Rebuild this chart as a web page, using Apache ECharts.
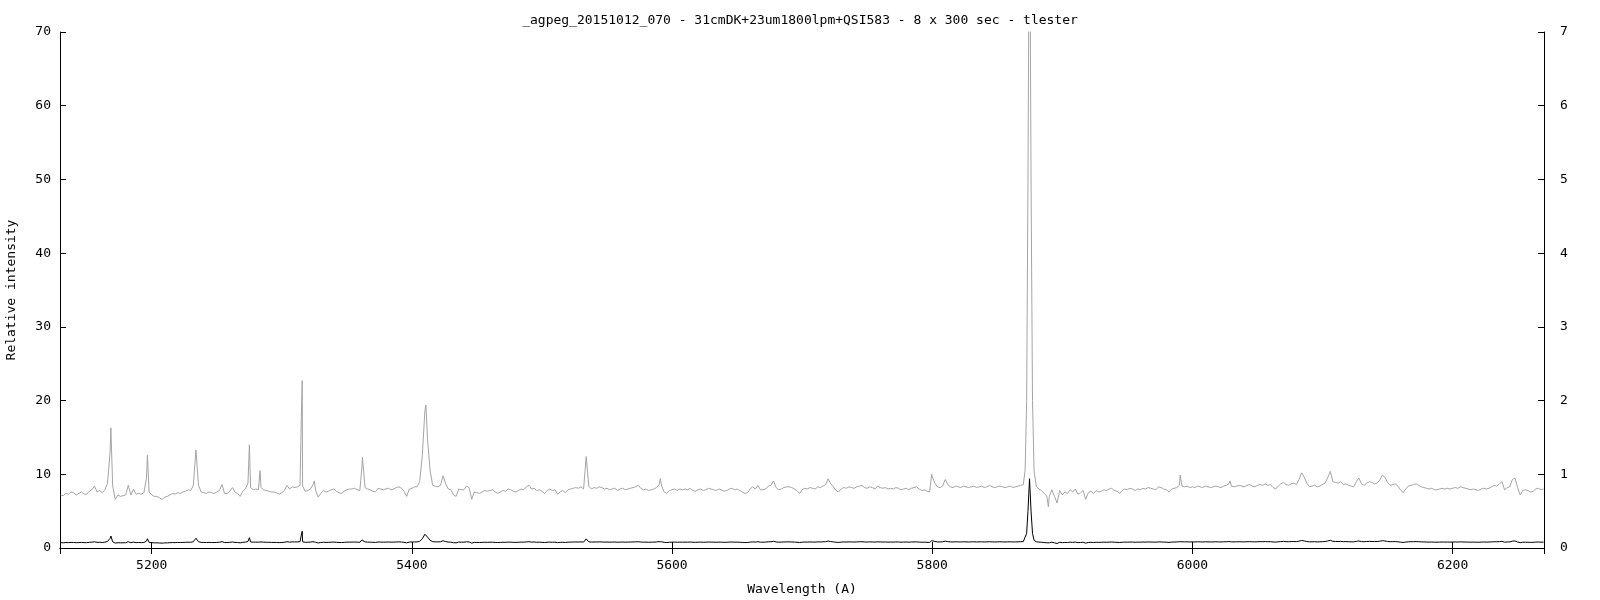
<!DOCTYPE html>
<html><head><meta charset="utf-8">
<script src="https://cdn.jsdelivr.net/npm/echarts@6/dist/echarts.min.js"></script>
<style>html,body{margin:0;padding:0;background:#fff}#c{width:1600px;height:600px}</style>
</head><body><div id="c"></div>
<script>
const titleText = '_agpeg_20151012_070 - 31cmDK+23um1800lpm+QSI583 - 8 x 300 sec - tlester';
const xAxisName = 'Wavelength (A)';
const yAxisName = 'Relative intensity';
const xTickLabels = [5200, 5400, 5600, 5800, 6000, 6200];
const yLeftRange = [0, 70];
const yRightRange = [0, 7];
const wavelengthRange = [5129.5, 6270.3];

// spectrum sampled every 2 A starting at 5130 A (null = sample replaced by line points below)
const gridStart = 5130, gridStep = 2;
const continuum = [
0.72,0.71,0.74,0.73,0.76,0.75,0.72,0.74,0.76,0.73,
0.73,0.77,0.79,0.84,0.76,0.78,0.75,0.79,0.88,1.30,
0.84,0.66,0.72,0.70,0.71,0.72,0.85,0.72,0.80,0.73,
0.74,0.73,0.75,0.95,0.76,0.72,0.70,0.70,0.68,0.66,
0.69,0.70,0.72,0.74,0.73,0.75,0.74,0.76,0.77,0.79,
0.78,0.85,1.33,0.85,0.76,0.75,0.74,0.76,0.75,0.74,
0.76,0.78,0.86,0.74,0.74,0.77,0.82,0.76,0.74,0.70,
0.77,0.80,0.88,0.82,0.79,0.80,0.79,0.82,0.79,0.78,
0.77,0.76,0.76,0.75,0.73,0.75,0.78,0.85,0.80,0.83,
0.82,0.83,0.85,0.84,0.77,0.78,0.80,0.86,0.78,0.69,
0.74,0.78,0.76,0.77,0.79,0.80,0.77,0.75,0.74,0.77,
0.79,0.80,0.80,0.81,0.79,0.78,1.23,0.82,0.80,0.79,
0.77,0.76,0.81,0.80,0.79,0.80,0.81,0.79,0.80,0.82,
0.83,0.81,0.77,0.70,0.80,0.81,0.83,0.83,0.90,1.25,
1.86,1.48,1.05,0.85,0.84,0.83,0.85,0.98,0.87,0.80,
0.79,0.72,0.70,0.80,0.79,0.79,0.84,0.82,0.66,0.76,
0.75,0.74,0.76,0.78,0.77,0.78,0.79,0.76,0.74,0.76,
0.78,0.77,0.80,0.79,0.77,0.76,0.78,0.80,0.79,0.83,
0.85,0.80,0.81,0.78,0.79,0.77,0.74,0.78,0.80,0.78,
0.79,0.73,0.76,0.78,0.75,0.79,0.80,0.81,0.82,0.81,
0.83,0.80,1.24,0.84,0.80,0.82,0.81,0.83,0.82,0.80,
0.81,0.79,0.80,0.81,0.78,0.80,0.81,0.79,0.80,0.81,
0.82,0.83,0.85,0.81,0.79,0.80,0.78,0.79,0.80,0.82,
0.86,0.84,0.76,0.74,0.78,0.79,0.80,0.78,0.80,0.79,
0.80,0.79,0.81,0.78,0.77,0.79,0.80,0.78,0.79,0.81,
0.80,0.79,0.78,0.80,0.79,0.77,0.78,0.80,0.81,0.79,
0.80,0.78,0.76,0.74,0.75,0.80,0.83,0.80,0.85,0.79,
0.79,0.80,0.84,0.85,0.91,0.82,0.79,0.80,0.82,0.83,
0.83,0.82,0.80,0.78,0.74,0.79,0.81,0.80,0.82,0.81,
0.80,0.83,0.82,0.84,0.86,0.94,0.87,0.83,0.78,0.76,
0.80,0.82,0.81,0.83,0.82,0.81,0.83,0.84,0.85,0.82,
0.81,0.83,0.82,0.80,0.84,0.82,0.81,0.82,0.80,0.81,
0.80,0.82,0.81,0.79,0.80,0.81,0.79,0.81,0.82,0.83,
0.80,0.78,0.79,0.77,0.76,0.97,0.88,0.83,0.82,0.84,
0.93,0.86,0.83,0.82,0.84,0.83,0.82,0.84,0.83,0.82,
0.83,0.84,0.82,0.83,0.84,0.82,0.83,0.85,0.83,0.82,
0.83,0.84,0.83,0.82,0.83,0.84,0.82,0.83,0.84,0.85,
0.86,null,null,null,null,0.84,0.80,0.78,0.74,0.71,
0.70,0.79,0.70,0.61,0.78,0.72,0.76,0.74,0.79,0.76,
0.80,0.73,0.75,0.78,0.66,0.75,0.77,0.74,0.78,0.76,
0.77,0.79,0.78,0.80,0.81,0.78,0.77,0.74,0.78,0.80,
0.79,0.81,0.80,0.78,0.80,0.79,0.81,0.80,0.82,0.81,
0.80,0.79,0.83,0.82,0.80,0.79,0.76,0.80,0.81,0.82,
0.85,0.84,0.83,0.84,0.82,0.83,0.82,0.84,0.83,0.82,
0.84,0.83,0.82,0.83,0.84,0.83,0.82,0.84,0.85,0.87,
0.84,0.83,0.84,0.85,0.84,0.83,0.85,0.86,0.84,0.83,
0.85,0.86,0.85,0.87,0.85,0.86,0.82,0.80,0.84,0.87,
0.89,0.86,0.85,0.87,0.88,0.86,0.93,1.02,0.96,0.88,
0.83,0.84,0.85,0.83,0.84,0.86,0.88,0.95,1.04,0.90,
0.89,0.88,0.90,0.86,0.87,0.85,0.84,0.83,0.90,0.95,
0.87,0.85,0.88,0.90,0.89,0.87,0.88,0.92,0.99,0.96,
0.89,0.85,0.86,0.87,0.84,0.79,0.75,0.80,0.84,0.85,
0.86,0.87,0.85,0.83,0.82,0.81,0.80,0.81,0.79,0.79,
0.80,0.81,0.80,0.81,0.80,0.81,0.82,0.81,0.83,0.82,
0.81,0.80,0.79,0.80,0.79,0.78,0.80,0.81,0.80,0.81,
0.83,0.85,0.84,0.87,0.90,0.79,0.82,0.83,0.93,0.95,
0.82,0.72,0.78,0.79,0.78,0.76,0.77,0.80,0.81,0.79,
0.80
];

// emission-line samples (wavelength, intensity)
const lineWavelengths = [5168.6,5196.7,5275.1,5283.3,5315.0,5315.7,5325.0,5361.6,5410.8,5591.0,5799.6,
  5871.4,5872.6,5873.6,5874.8,5876.0,5877.1,5878.3,5889.3,5990.6,6029.0];
const lineIntensities = [1.63,1.26,1.40,1.05,1.76,2.27,0.91,1.10,1.94,0.94,1.00,
  1.05,2.00,4.97,9.40,4.90,2.00,1.05,0.56,0.99,0.91];

const points = [];
continuum.forEach((v, i) => { if (v !== null) points.push([gridStart + i * gridStep, v]); });
lineWavelengths.forEach((w, i) => points.push([w, lineIntensities[i]]));
points.sort((a, b) => a[0] - b[0]);

const font = "'DejaVu Sans Mono', 'Liberation Mono', monospace";
const txt = { fontFamily: font, fontSize: 13, color: '#000' };
const axLine = { show: true, lineStyle: { color: '#000', width: 1 } };
const axTick = { show: true, inside: true, length: 6, lineStyle: { color: '#000', width: 1 } };

const chart = echarts.init(document.getElementById('c'));
chart.setOption({
  animation: false,
  backgroundColor: '#fff',
  title: { text: titleText, left: 'center', top: 9,
    textStyle: Object.assign({ fontWeight: 'normal' }, txt) },
  grid: { left: 60, right: 56, top: 32, bottom: 52, containLabel: false, outerBoundsMode: 'none' },
  xAxis: [
    { type: 'value', position: 'bottom', min: wavelengthRange[0], max: wavelengthRange[1],
      axisLine: axLine, axisTick: axTick, splitLine: { show: false },
      axisLabel: Object.assign({ margin: 11, formatter: v => xTickLabels.includes(Math.round(v * 1000) / 1000) ? String(v) : '' }, txt),
      name: xAxisName, nameLocation: 'middle', nameGap: 35, nameTextStyle: txt },
    { type: 'value', position: 'top', min: wavelengthRange[0], max: wavelengthRange[1],
      axisLine: axLine, axisTick: axTick, splitLine: { show: false }, axisLabel: { show: false } }
  ],
  yAxis: [
    { type: 'value', position: 'left', min: yLeftRange[0], max: yLeftRange[1], interval: 10,
      axisLine: axLine, axisTick: axTick, splitLine: { show: false },
      axisLabel: Object.assign({ margin: 9 }, txt),
      name: yAxisName, nameLocation: 'middle', nameGap: 42, nameTextStyle: txt },
    { type: 'value', position: 'right', min: yRightRange[0], max: yRightRange[1], interval: 1,
      axisLine: axLine, axisTick: axTick, splitLine: { show: false },
      axisLabel: Object.assign({ margin: 16 }, txt) }
  ],
  series: [
    { type: 'line', data: points, xAxisIndex: 0, yAxisIndex: 1, showSymbol: false, silent: true,
      lineStyle: { color: '#a4a4a4', width: 1 }, z: 2 },
    { type: 'line', data: points, xAxisIndex: 0, yAxisIndex: 0, showSymbol: false, silent: true,
      lineStyle: { color: '#000000', width: 1 }, z: 3 }
  ]
});
</script></body></html>
